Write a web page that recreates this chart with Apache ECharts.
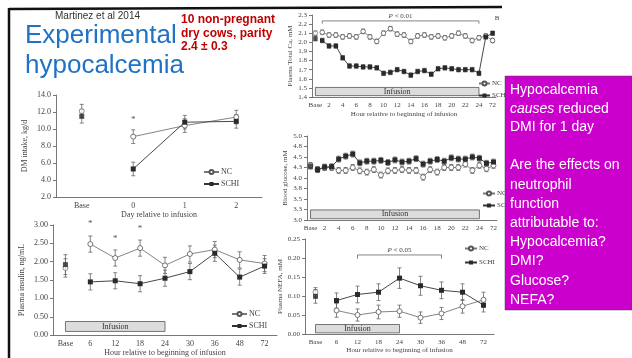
<!DOCTYPE html>
<html>
<head>
<meta charset="utf-8">
<script src="https://cdn.jsdelivr.net/npm/echarts@6/dist/echarts.min.js"></script>
<style>
  html, body { margin: 0; padding: 0; background: #fff; }
  #chart { width: 632px; height: 358px; }
</style>
</head>
<body>
<div id="chart"></div>
<script>
// DMI intake, kg/d
const dmiDays = ['Base', '0', '1', '2'];
const dmiNC = [12.1, 9.1, 10.4, 11.4];
const dmiNCErr = [0.8, 0.8, 0.8, 0.8];
const dmiSCHI = [11.5, 5.3, 10.8, 10.9];
const dmiSCHIErr = [0.8, 0.8, 0.8, 0.8];
const dmiStars = [[1, 11.1]];

// Plasma insulin, ng/mL
const insHours = ['Base', '6', '12', '18', '24', '30', '36', '48', '72'];
const insNC = [1.83, 2.48, 2.10, 2.37, 1.90, 2.21, 2.33, 2.05, 1.95];
const insNCErr = [0.25, 0.22, 0.22, 0.22, 0.22, 0.22, 0.22, 0.22, 0.22];
const insSCHI = [1.92, 1.45, 1.48, 1.40, 1.55, 1.73, 2.23, 1.58, 1.88];
const insSCHIErr = [0.27, 0.22, 0.22, 0.22, 0.22, 0.22, 0.22, 0.22, 0.2];
const insStars = [[1, 3.05], [2, 2.62], [3, 2.90]];

// Plasma total Ca, mM
const caHours = ['Base', '1', '2', '3', '4', '5', '6', '7', '8', '9', '10', '11', '12',
  '13', '14', '15', '16', '17', '18', '19', '20', '21', '22', '23', '24', '48', '72'];
const caNC = [2.10, 2.11, 2.08, 2.08, 2.06, 2.07, 2.06, 2.12, 2.06, 2.01, 2.10, 2.15, 2.09,
  2.08, 2.01, 2.07, 2.08, 2.06, 2.07, 2.05, 2.07, 2.10, 2.07, 2.02, 2.05, 2.07, 2.02];
const caSCHI = [2.04, 2.02, 1.96, 1.96, 1.83, 1.74, 1.74, 1.73, 1.73, 1.72, 1.66, 1.67, 1.70,
  1.68, 1.64, 1.68, 1.69, 1.65, 1.71, 1.72, 1.71, 1.70, 1.70, 1.70, 1.66, 2.06, 2.10];
const caErr = 0.025;
const caBracket = [[1, 24, 2.235, 2.205]];

// Blood glucose, mM
const gluNC = [4.30, 4.20, 4.25, 4.25, 4.18, 4.18, 4.25, 4.17, 4.14, 4.20, 4.07, 4.17, 4.18,
  4.20, 4.18, 4.18, 4.02, 4.20, 4.14, 4.25, 4.25, 4.25, 4.33, 4.18, 4.30, 4.22, 4.30];
const gluSCHI = [4.28, 4.20, 4.26, 4.27, 4.45, 4.52, 4.57, 4.36, 4.40, 4.40, 4.42, 4.37, 4.43,
  4.38, 4.40, 4.46, 4.33, 4.40, 4.44, 4.40, 4.48, 4.45, 4.45, 4.50, 4.47, 4.35, 4.38];
const gluErr = 0.07;

// Plasma NEFA, mM
const nefaNC = [0.110, 0.062, 0.050, 0.058, 0.060, 0.043, 0.054, 0.073, 0.090];
const nefaNCErr = [0.012, 0.018, 0.016, 0.018, 0.016, 0.015, 0.016, 0.018, 0.020];
const nefaSCHI = [0.099, 0.088, 0.104, 0.110, 0.147, 0.127, 0.115, 0.110, 0.076];
const nefaSCHIErr = [0.018, 0.020, 0.022, 0.022, 0.027, 0.025, 0.022, 0.022, 0.018];
const nefaBracket = [[2, 6, 0.208, 0.198]];

const serif = 'Liberation Serif';
const sans = 'Liberation Sans';
const axisCol = '#555';
const txtCol = '#444';
const ncCol = '#555';
const schiCol = '#2a2a2a';

const chart = echarts.init(document.getElementById('chart'), null, {renderer: 'canvas'});

function xAx(grid, cats, size, name, gap, fmt) {
  return {
    type: 'category', gridIndex: grid, data: cats,
    name: name, nameLocation: 'middle', nameGap: gap,
    nameTextStyle: {fontFamily: serif, fontSize: size, color: txtCol},
    axisLine: {lineStyle: {color: axisCol, width: 0.8}},
    axisTick: {length: 3, lineStyle: {color: axisCol, width: 0.8}},
    axisLabel: {fontFamily: serif, fontSize: size, color: txtCol, margin: 5, interval: 0, formatter: fmt},
    splitLine: {show: false}
  };
}

function yAx(grid, min, max, step, dec, size, name, gap) {
  return {
    type: 'value', gridIndex: grid, min: min, max: max, interval: step,
    name: name, nameLocation: 'middle', nameGap: gap,
    nameTextStyle: {fontFamily: serif, fontSize: size, color: txtCol},
    axisLine: {show: true, lineStyle: {color: axisCol, width: 0.8}},
    axisTick: {show: true, length: 3, lineStyle: {color: axisCol, width: 0.8}},
    axisLabel: {fontFamily: serif, fontSize: size, color: txtCol, margin: 5,
      formatter: v => v.toFixed(dec)},
    splitLine: {show: false}
  };
}

function errRender(params, api) {
  const x = api.value(0), y = api.value(1), e = api.value(2);
  const hi = api.coord([x, y + e]), lo = api.coord([x, y - e]);
  const w = 2;
  const st = {stroke: '#666', lineWidth: 0.8};
  return {type: 'group', children: [
    {type: 'line', shape: {x1: hi[0], y1: hi[1], x2: lo[0], y2: lo[1]}, style: st},
    {type: 'line', shape: {x1: hi[0] - w, y1: hi[1], x2: hi[0] + w, y2: hi[1]}, style: st},
    {type: 'line', shape: {x1: lo[0] - w, y1: lo[1], x2: lo[0] + w, y2: lo[1]}, style: st}
  ]};
}

function starRender(params, api) {
  const p = api.coord([api.value(0), api.value(1)]);
  return {type: 'text', style: {text: '*', x: p[0], y: p[1], align: 'center', verticalAlign: 'middle',
    font: '9px ' + serif, fill: '#555'}};
}

function bracket(label) {
  return function (params, api) {
    const a = api.coord([api.value(0), api.value(2)]);
    const b = api.coord([api.value(1), api.value(2)]);
    const t = api.coord([api.value(0), api.value(3)]);
    return {type: 'group', children: [
      {type: 'polyline', shape: {points: [[a[0], t[1]], [a[0], a[1]], [b[0], b[1]], [b[0], t[1]]]},
        style: {stroke: '#666', lineWidth: 0.8, fill: null}},
      {type: 'text', style: {text: '{i|P} < ' + label, x: (a[0] + b[0]) / 2, y: a[1] - 5,
        align: 'center', verticalAlign: 'middle', font: '7px ' + serif, fill: txtCol,
        rich: {i: {fontStyle: 'italic', fontFamily: serif, fontSize: 7, fill: txtCol}}}}
    ]};
  };
}

const series = [];
function panel(g, nc, ncErr, schi, schiErr, sym, box) {
  const base = {xAxisIndex: g, yAxisIndex: g};
  const ncItem = {color: '#fff', borderColor: ncCol, borderWidth: 0.8};
  series.push(Object.assign({
    name: 'NC', type: 'line', z: 3,
    data: nc.map((v, i) => i === 0 ? '-' : v),
    symbol: 'circle', symbolSize: sym, showSymbol: true,
    lineStyle: {color: '#777', width: 0.9},
    itemStyle: ncItem
  }, base));
  const schiLine = Object.assign({
    name: 'SCHI', type: 'line', z: 3,
    data: schi.map((v, i) => i === 0 ? '-' : v),
    symbol: 'rect', symbolSize: sym, showSymbol: true,
    lineStyle: {color: '#333', width: 0.9},
    itemStyle: {color: schiCol}
  }, base);
  if (box) {
    schiLine.markArea = {
      silent: true,
      itemStyle: {color: '#dcdcdc', borderColor: '#555', borderWidth: 0.8},
      label: {show: true, position: 'inside', formatter: 'Infusion', fontFamily: serif, fontSize: 8, color: '#333'},
      data: [[{coord: ['Base', box[0]]}, {coord: ['24', box[1]]}]]
    };
  }
  series.push(schiLine);
  series.push(Object.assign({
    name: 'NC', type: 'scatter', z: 4, data: [[0, nc[0]]],
    symbol: 'circle', symbolSize: sym, itemStyle: ncItem
  }, base));
  series.push(Object.assign({
    name: 'SCHI', type: 'scatter', z: 4, data: [[0, schi[0]]],
    symbol: 'rect', symbolSize: sym, itemStyle: {color: schiCol}
  }, base));
  series.push(Object.assign({
    type: 'custom', z: 2, renderItem: errRender, encode: {x: 0, y: 1},
    data: nc.map((v, i) => [i, v, Array.isArray(ncErr) ? ncErr[i] : ncErr])
  }, base));
  series.push(Object.assign({
    type: 'custom', z: 2, renderItem: errRender, encode: {x: 0, y: 1},
    data: schi.map((v, i) => [i, v, Array.isArray(schiErr) ? schiErr[i] : schiErr])
  }, base));
}

panel(0, dmiNC, dmiNCErr, dmiSCHI, dmiSCHIErr, 5, null);
panel(1, insNC, insNCErr, insSCHI, insSCHIErr, 5, [0.10, 0.37]);
panel(2, caNC, caErr, caSCHI, caErr, 4.5, [1.415, 1.505]);
panel(3, gluNC, gluErr, gluSCHI, gluErr, 5, [3.03, 3.24]);
panel(4, nefaNC, nefaNCErr, nefaSCHI, nefaSCHIErr, 5, [0.003, 0.025]);

series.push({type: 'custom', xAxisIndex: 0, yAxisIndex: 0, renderItem: starRender, encode: {x: 0, y: 1}, data: dmiStars});
series.push({type: 'custom', xAxisIndex: 1, yAxisIndex: 1, renderItem: starRender, encode: {x: 0, y: 1}, data: insStars});
series.push({type: 'custom', xAxisIndex: 2, yAxisIndex: 2, renderItem: bracket('0.01'),
  encode: {x: [0, 1], y: [2, 3]}, data: caBracket});
series.push({type: 'custom', xAxisIndex: 4, yAxisIndex: 4, renderItem: bracket('0.05'),
  encode: {x: [0, 1], y: [2, 3]}, data: nefaBracket});

function leg(left, top, size, iw, gap) {
  return {
    left: left, top: top, orient: 'vertical', data: ['NC', 'SCHI'], selectedMode: false,
    itemWidth: iw, itemHeight: 5, itemGap: gap, padding: 0,
    textStyle: {fontFamily: serif, fontSize: size, color: txtCol, padding: [0, 0, 0, -3]}
  };
}

const purpleLines = [
  ['Hypocalcemia', 90], ['{i|causes} reduced', 109], ['DMI for 1 day', 127],
  ['Are the effects on', 165], ['neutrophil', 185], ['function', 204],
  ['attributable to:', 223], ['Hypocalcemia?', 242], ['DMI?', 261],
  ['Glucose?', 281], ['NEFA?', 300]
];

const graphics = [
  {type: 'line', shape: {x1: 9, y1: 9, x2: 502, y2: 7}, style: {stroke: '#111', lineWidth: 2.5}},
  {type: 'line', shape: {x1: 9, y1: 8, x2: 9, y2: 358}, style: {stroke: '#111', lineWidth: 2.5}},
  {type: 'text', style: {text: 'Martinez et al 2014', x: 55, y: 16, verticalAlign: 'middle',
    font: '10px ' + sans, fill: '#333'}},
  {type: 'text', style: {text: 'Experimental', x: 25, y: 36, verticalAlign: 'middle',
    font: '26px ' + sans, fill: '#1f72c4'}},
  {type: 'text', style: {text: 'hypocalcemia', x: 25, y: 66, verticalAlign: 'middle',
    font: '26px ' + sans, fill: '#1f72c4'}},
  {type: 'text', style: {text: '10 non-pregnant', x: 181, y: 20, verticalAlign: 'middle',
    font: 'bold 12px ' + sans, fill: '#c00000'}},
  {type: 'text', style: {text: 'dry cows, parity', x: 181, y: 34, verticalAlign: 'middle',
    font: 'bold 12px ' + sans, fill: '#c00000'}},
  {type: 'text', style: {text: '2.4 \u00b1 0.3', x: 181, y: 47, verticalAlign: 'middle',
    font: 'bold 12px ' + sans, fill: '#c00000'}},
  {type: 'text', style: {text: 'B', x: 497, y: 18, verticalAlign: 'middle', align: 'center',
    font: '7px ' + serif, fill: txtCol}},
  {type: 'rect', z: 100, shape: {x: 505, y: 76, width: 127, height: 234}, style: {fill: '#cc00cc', stroke: '#444', lineWidth: 0.5}}
];
purpleLines.forEach(([t, y]) => graphics.push({
  type: 'text', z: 101, style: {text: t, x: 510, y: y, verticalAlign: 'middle',
    font: '14px ' + sans, fill: '#fff',
    rich: {i: {fontStyle: 'italic', fontFamily: sans, fontSize: 14, fill: '#fff'}}}
}));

chart.setOption({
  animation: false,
  backgroundColor: '#fff',
  grid: [
    {left: 56, top: 95, width: 206, height: 102},
    {left: 53, top: 225, width: 224, height: 113},
    {left: 312, top: 15, width: 184, height: 82},
    {left: 307, top: 136, width: 190, height: 84},
    {left: 305, top: 239, width: 189, height: 95}
  ],
  xAxis: [
    xAx(0, dmiDays, 8, 'Day relative to infusion', 12),
    xAx(1, insHours, 8, 'Hour relative to beginning of infusion', 13),
    xAx(2, caHours, 7, 'Hour relative to beginning of infusion', 14, (v, i) => i % 2 === 0 ? v : ''),
    xAx(3, caHours, 7, '', 10, (v, i) => i % 2 === 0 ? v : ''),
    xAx(4, insHours, 7, 'Hour relative to beginning of infusion', 10)
  ],
  yAxis: [
    yAx(0, 2, 14, 2, 1, 8, 'DM intake, kg/d', 27),
    yAx(1, 0, 3, 0.5, 2, 8, 'Plasma insulin, ng/mL', 27),
    yAx(2, 1.4, 2.3, 0.1, 1, 7, 'Plasma Total Ca, mM', 18),
    yAx(3, 3, 5, 0.25, 1, 7, 'Blood glucose, mM', 18),
    yAx(4, 0, 0.25, 0.05, 2, 7, 'Plasma NEFA, mM', 20)
  ],
  legend: [
    leg(203, 168, 8, 15, 4),
    leg(231, 310, 8, 15, 4),
    leg(478, 80, 7, 11, 5),
    leg(482, 190, 7, 12, 5),
    leg(464, 245, 7, 12, 7)
  ],
  series: series,
  graphic: graphics
});
</script>
</body>
</html>
